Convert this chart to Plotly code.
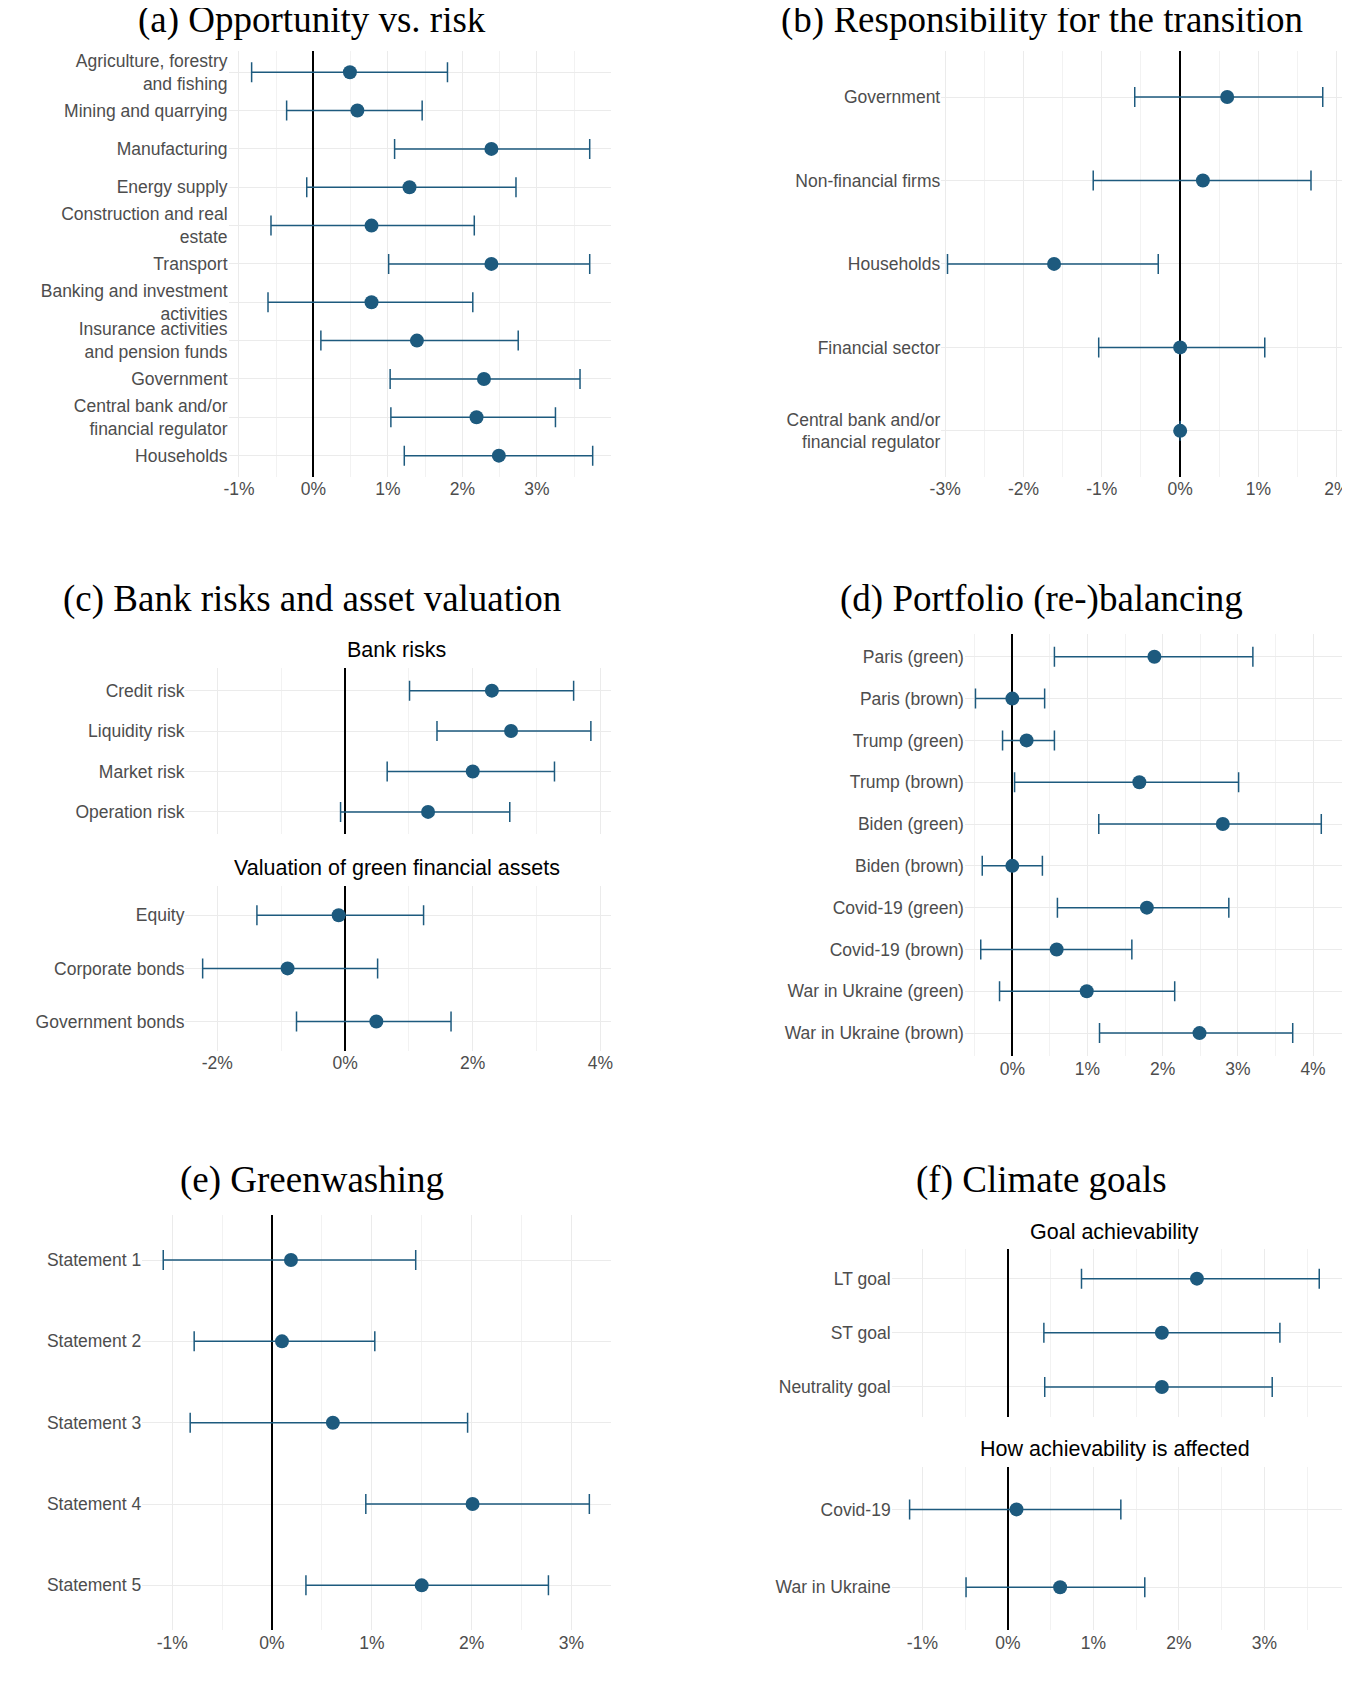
import plotly.graph_objects as go

# (a) Opportunity vs. risk
a_cats = ["Agriculture, forestry<br>and fishing", "Mining and quarrying", "Manufacturing", "Energy supply",
          "Construction and real<br>estate", "Transport", "Banking and investment<br>activities",
          "Insurance activities<br>and pension funds", "Government", "Central bank and/or<br>financial regulator",
          "Households"]
a_est = [0.49, 0.59, 2.39, 1.29, 0.78, 2.39, 0.78, 1.39, 2.29, 2.19, 2.49]
a_lo = [-0.83, -0.36, 1.09, -0.09, -0.57, 1.01, -0.61, 0.10, 1.03, 1.04, 1.22]
a_hi = [1.80, 1.46, 3.71, 2.72, 2.16, 3.71, 2.14, 2.75, 3.58, 3.25, 3.75]

# (b) Responsibility for the transition
b_cats = ["Government", "Non-financial firms", "Households", "Financial sector",
          "Central bank and/or<br>financial regulator"]
b_est = [0.60, 0.29, -1.61, 0.0, 0.0]
b_lo = [-0.58, -1.11, -2.97, -1.04, 0.0]
b_hi = [1.82, 1.67, -0.28, 1.08, 0.0]

# (c) Bank risks and asset valuation
c1_cats = ["Credit risk", "Liquidity risk", "Market risk", "Operation risk"]
c1_est = [2.30, 2.60, 2.00, 1.30]
c1_lo = [1.01, 1.44, 0.66, -0.07]
c1_hi = [3.58, 3.85, 3.28, 2.58]
c2_cats = ["Equity", "Corporate bonds", "Government bonds"]
c2_est = [-0.10, -0.90, 0.49]
c2_lo = [-1.38, -2.23, -0.76]
c2_hi = [1.23, 0.51, 1.66]

# (d) Portfolio (re-)balancing
d_cats = ["Paris (green)", "Paris (brown)", "Trump (green)", "Trump (brown)", "Biden (green)",
          "Biden (brown)", "Covid-19 (green)", "Covid-19 (brown)", "War in Ukraine (green)",
          "War in Ukraine (brown)"]
d_est = [1.89, 0.0, 0.19, 1.69, 2.80, 0.0, 1.79, 0.59, 0.99, 2.49]
d_lo = [0.56, -0.49, -0.13, 0.03, 1.15, -0.40, 0.60, -0.42, -0.17, 1.16]
d_hi = [3.20, 0.43, 0.56, 3.01, 4.11, 0.40, 2.88, 1.59, 2.16, 3.73]

# (e) Greenwashing
e_cats = ["Statement 1", "Statement 2", "Statement 3", "Statement 4", "Statement 5"]
e_est = [0.19, 0.10, 0.61, 2.01, 1.50]
e_lo = [-1.09, -0.78, -0.82, 0.94, 0.34]
e_hi = [1.44, 1.03, 1.96, 3.18, 2.77]

# (f) Climate goals
f1_cats = ["LT goal", "ST goal", "Neutrality goal"]
f1_est = [2.21, 1.80, 1.80]
f1_lo = [0.86, 0.42, 0.43]
f1_hi = [3.64, 3.18, 3.09]
f2_cats = ["Covid-19", "War in Ukraine"]
f2_est = [0.10, 0.61]
f2_lo = [-1.15, -0.49]
f2_hi = [1.32, 1.60]

W, H = 1250.0, 1568.0
BLUE = "#1d5a7e"
TICK = dict(family="Liberation Sans, Arial", size=17.5, color="#4d4d4d")


def fx(p):
    return (1.0126 * p - 16.8) / W


def fy(p):
    return 1 - (1.003 * p - 7.2) / H


# panel: data, x-range, x pixel box, y pixel box, x ticks, show x tick labels
panels = [
    (a_cats, a_est, a_lo, a_hi, [-1.14, 4.0], (210, 565), (47, 440), [-1, 0, 1, 2, 3], True),
    (b_cats, b_est, b_lo, b_hi, [-3.05, 2.07], (871, 1243), (47, 440), [-3, -2, -1, 0, 1, 2], True),
    (c1_cats, c1_est, c1_lo, c1_hi, [-2.5, 4.17], (170, 565), (617, 770), [-2, 0, 2, 4], False),
    (c2_cats, c2_est, c2_lo, c2_hi, [-2.5, 4.17], (170, 565), (818, 970), [-2, 0, 2, 4], True),
    (d_cats, d_est, d_lo, d_hi, [-0.63, 4.39], (893, 1243), (585, 975), [0, 1, 2, 3, 4], True),
    (e_cats, e_est, e_lo, e_hi, [-1.3, 3.4], (130, 565), (1122, 1505), [-1, 0, 1, 2, 3], True),
    (f1_cats, f1_est, f1_lo, f1_hi, [-1.36, 3.91], (825, 1243), (1153, 1308), [-1, 0, 1, 2, 3], False),
    (f2_cats, f2_est, f2_lo, f2_hi, [-1.36, 3.91], (825, 1243), (1354, 1505), [-1, 0, 1, 2, 3], True),
]

fig = go.Figure()
for i, (cats, est, lo, hi, xr, xp, yp, ticks, show) in enumerate(panels):
    n = i + 1
    sfx = "" if n == 1 else str(n)
    fig.add_trace(go.Scatter(
        x=est, y=cats, mode="markers",
        marker=dict(color=BLUE, size=14),
        error_x=dict(type="data", symmetric=False,
                     array=[h - e for h, e in zip(hi, est)],
                     arrayminus=[e - l for e, l in zip(est, lo)],
                     color=BLUE, thickness=1.5, width=10),
        xaxis="x" + sfx, yaxis="y" + sfx, showlegend=False))
    step = ticks[1] - ticks[0]
    fig.layout["xaxis" + sfx] = dict(
        domain=[fx(xp[0]), fx(xp[1])], range=xr, anchor="y" + sfx,
        tickvals=ticks, ticktext=[f"{t}%" for t in ticks] if show else None,
        showticklabels=show, tickfont=TICK, ticks="",
        showgrid=True, gridcolor="#ebebeb", gridwidth=1.2,
        minor=dict(dtick=step / 2, tick0=0, showgrid=True, gridcolor="#f2f2f2", gridwidth=1),
        zeroline=True, zerolinecolor="black", zerolinewidth=1.5, showline=False)
    fig.layout["yaxis" + sfx] = dict(
        domain=[fy(yp[1]), fy(yp[0])], anchor="x" + sfx,
        type="category", categoryorder="array", categoryarray=cats,
        range=[len(cats) - 1 + 0.55, -0.55], tickfont=TICK, ticks="",
        showgrid=True, gridcolor="#ebebeb", gridwidth=1.2, zeroline=False)

titles = [
    ("(a) Opportunity vs. risk", 287, 18),
    ("(b) Responsibility for the transition", 964, 18),
    ("(c) Bank risks and asset valuation", 287, 553),
    ("(d) Portfolio (re-)balancing", 964, 553),
    ("(e) Greenwashing", 287, 1089),
    ("(f) Climate goals", 964, 1089),
]
ann = []
for t, x, y in titles:
    ann.append(dict(text=t, x=fx(x), y=fy(y), xref="paper", yref="paper", showarrow=False,
                    font=dict(family="Liberation Serif, DejaVu Serif", size=37, color="black"),
                    xanchor="center", yanchor="middle"))
subs = [("Bank risks", 366, 600), ("Valuation of green financial assets", 366, 801),
        ("Goal achievability", 1032, 1137), ("How achievability is affected", 1032, 1338)]
for t, x, y in subs:
    ann.append(dict(text=t, x=fx(x), y=fy(y), xref="paper", yref="paper", showarrow=False,
                    font=dict(family="Liberation Sans, Arial", size=21.5, color="black"),
                    xanchor="center", yanchor="middle"))

fig.update_layout(width=1350, height=1693, autosize=False,
                  margin=dict(l=0, r=0, t=0, b=0),
                  paper_bgcolor="white", plot_bgcolor="white", annotations=ann)
fig.write_html("out.html")
